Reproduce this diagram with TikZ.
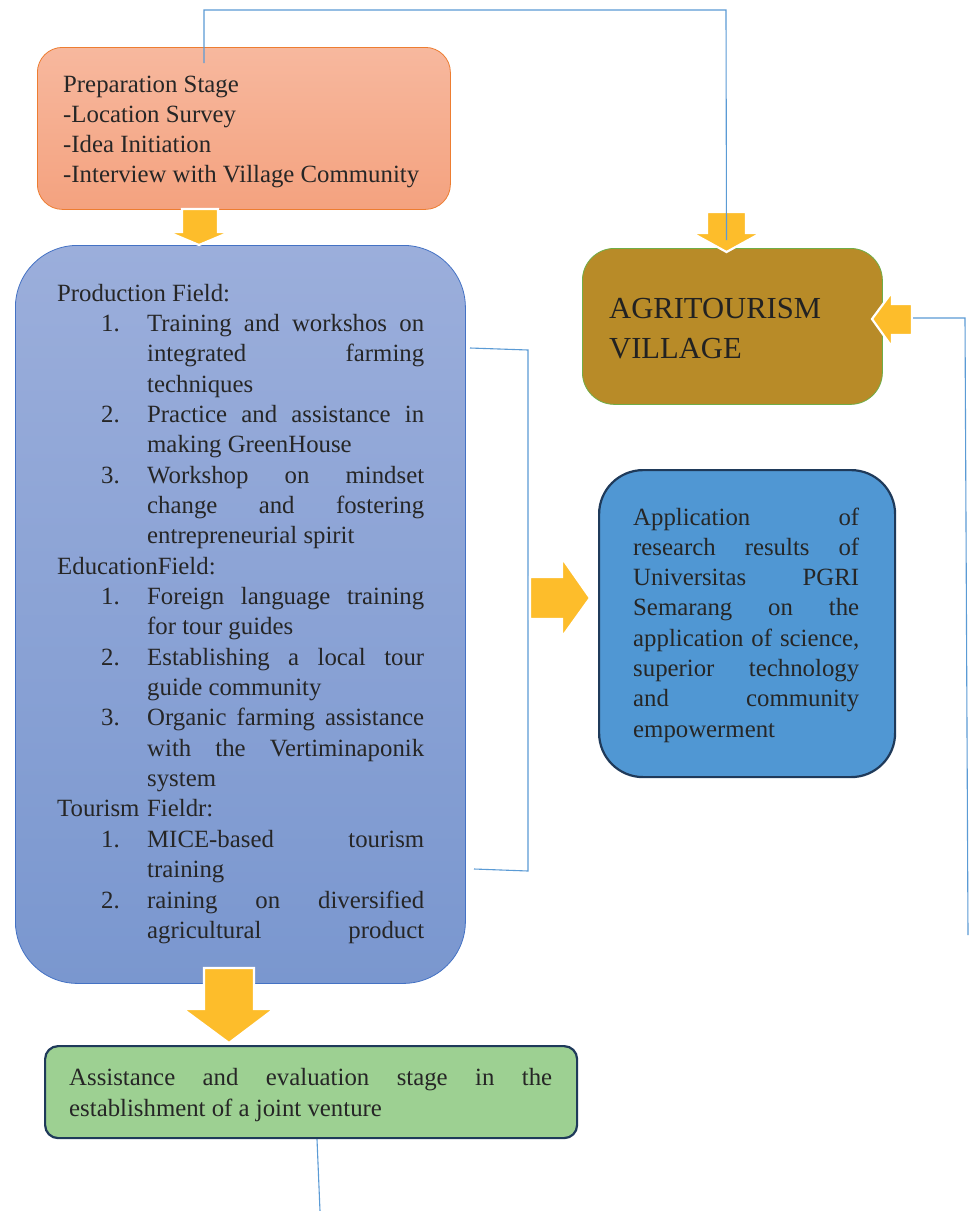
\documentclass[tikz,border=0pt]{standalone}
\usepackage{fontspec}
\setmainfont{Liberation Serif}
\definecolor{arrowyellow}{RGB}{253,189,43}
\definecolor{linkblue}{RGB}{91,155,213}
\definecolor{txtgray}{RGB}{38,38,38}
\definecolor{prepTop}{RGB}{247,184,158}
\definecolor{prepBot}{RGB}{244,162,127}
\definecolor{prepLine}{RGB}{237,125,49}
\definecolor{mainTop}{RGB}{155,174,219}
\definecolor{mainBot}{RGB}{122,151,207}
\definecolor{mainLine}{RGB}{68,114,196}
\definecolor{agriFill}{RGB}{184,139,40}
\definecolor{agriLine}{RGB}{112,173,71}
\definecolor{appFill}{RGB}{80,151,211}
\definecolor{darkLine}{RGB}{31,58,90}
\definecolor{greenFill}{RGB}{157,208,146}
\tikzset{
  boxshape/.style={draw, inner sep=0pt, anchor=north west},
  prepbox/.style={boxshape, draw=prepLine, line width=0.8pt, top color=prepTop, bottom color=prepBot, rounded corners=25pt},
  mainbox/.style={boxshape, draw=mainLine, line width=0.8pt, top color=mainTop, bottom color=mainBot, rounded corners=62pt},
  agribox/.style={boxshape, draw=agriLine, line width=0.8pt, fill=agriFill, rounded corners=32pt},
  appbox/.style={boxshape, draw=darkLine, line width=2.2pt, fill=appFill, rounded corners=44pt},
  greenbox/.style={boxshape, draw=darkLine, line width=2.2pt, fill=greenFill, rounded corners=13pt},
  txt/.style={inner sep=0pt, anchor=base west, text=txtgray, font=\fontsize{24.8}{28}\selectfont},
  bigtxt/.style={inner sep=0pt, anchor=base west, text=txtgray!90!black, font=\fontsize{30.6}{36}\selectfont},
  blockarrow/.style={fill=arrowyellow, draw=white, line width=2.2pt, line join=miter},
  conn/.style={draw=linkblue, line width=1.1pt},
}
\newcommand{\jline}[4]{\node[txt] (#1) at (#2) {\makebox[#3][s]{#4}};}
\newcommand{\pline}[3]{\node[txt] (#1) at (#2) {#3};}
\begin{document}
\begin{tikzpicture}[x=1pt,y=-1pt]
\useasboundingbox[fill=white] (0,0) rectangle (970,1211);

% ---------- boxes ----------
\node[prepbox, minimum width=413pt, minimum height=162pt] (prep) at (37,47) {};
\node[mainbox, minimum width=450pt, minimum height=738pt] (main) at (15,245) {};
\node[agribox, minimum width=300pt, minimum height=156pt] (agri) at (582,248) {};
\node[appbox, minimum width=296pt, minimum height=307pt] (app) at (598,469) {};
\node[greenbox, minimum width=532pt, minimum height=92pt] (green) at (44,1045) {};

% ---------- connector lines (behind arrows) ----------
\coordinate (brTop) at (470,348);
\coordinate (brTopR) at (528,350);
\coordinate (brBotR) at (528,871);
\coordinate (brBot) at (474,869);
\draw[conn] (brTop) -- (brTopR) -- (brBotR) -- (brBot);

% ---------- block arrows ----------
% preparation -> main
\draw[blockarrow] (182,209) -- (218,209) -- (218,232) -- (230,232) -- (199,245) -- (168,232) -- (182,232) -- cycle;
% top -> agritourism
\draw[blockarrow] (707,212) -- (746,212) -- (746,233) -- (761,233) -- (726.5,252) -- (692,233) -- (707,233) -- cycle;
% right -> agritourism
\draw[blockarrow] (912,304) -- (912,335) -- (892,335) -- (892,347) -- (872,319) -- (892,292) -- (892,304) -- cycle;
% bracket -> application
\draw[blockarrow] (530,577) -- (562,577) -- (562,558) -- (590,598) -- (562,637) -- (562,619) -- (530,619) -- cycle;
% main -> green
\draw[blockarrow] (204,968) -- (254,968) -- (254,1009) -- (274,1009) -- (229,1043) -- (183,1009) -- (204,1009) -- cycle;

% ---------- connector lines (over arrows) ----------
\coordinate (topL) at (204,10);
\coordinate (topR) at (726,10);
\coordinate (agriIn) at (726.5,240);
\coordinate (rightIn) at (913,318);
\coordinate (rightCorner) at (965,318);
\coordinate (rightEnd) at (968,935);
\coordinate (bottomEnd) at (320,1211);
\draw[conn] (204,63) -- (topL) -- (topR) -- (agriIn);
\draw[conn] (rightIn) -- (rightCorner) -- (rightEnd);
\draw[conn] (green.south -| 317,0) -- (bottomEnd);

% ---------- preparation text ----------
\pline{p1}{63,92}{Preparation Stage}
\pline{p2}{63,122}{-Location Survey}
\pline{p3}{63,152}{-Idea Initiation}
\pline{p4}{63,182}{-Interview with Village Community}

% ---------- main text ----------
\pline{m0}{57,301}{Production Field:}
\pline{n1}{101,331.35}{1.}
\jline{m1}{147,331.35}{277pt}{Training and workshos on}
\jline{m2}{147,361.7}{277pt}{integrated farming}
\pline{m3}{147,392.05}{techniques}
\pline{n2}{101,422.4}{2.}
\jline{m4}{147,422.4}{277pt}{Practice and assistance in}
\pline{m5}{147,452.75}{making GreenHouse}
\pline{n3}{101,483.1}{3.}
\jline{m6}{147,483.1}{277pt}{Workshop on mindset}
\jline{m7}{147,513.45}{277pt}{change and fostering}
\pline{m8}{147,543.8}{entrepreneurial spirit}
\pline{m9}{57,574.15}{EducationField:}
\pline{n4}{101,604.5}{1.}
\jline{m10}{147,604.5}{277pt}{Foreign language training}
\pline{m11}{147,634.85}{for tour guides}
\pline{n5}{101,665.2}{2.}
\jline{m12}{147,665.2}{277pt}{Establishing a local tour}
\pline{m13}{147,695.55}{guide community}
\pline{n6}{101,725.9}{3.}
\jline{m14}{147,725.9}{277pt}{Organic farming assistance}
\jline{m15}{147,756.25}{277pt}{with the Vertiminaponik}
\pline{m16}{147,786.6}{system}
\pline{m17a}{57,816.95}{Tourism}
\pline{m17b}{147,816.95}{Fieldr:}
\pline{n7}{101,847.3}{1.}
\jline{m18}{147,847.3}{277pt}{MICE-based tourism}
\pline{m19}{147,877.65}{training}
\pline{n8}{101,908}{2.}
\jline{m20}{147,908}{277pt}{raining on diversified}
\jline{m21}{147,938.35}{277pt}{agricultural product}

% ---------- agritourism text ----------
\node[bigtxt] (a1) at (609,318) {AGRITOURISM};
\node[bigtxt] (a2) at (609,358) {VILLAGE};

% ---------- application text ----------
\jline{b1}{633,525}{226pt}{Application of}
\jline{b2}{633,555.3}{226pt}{research results of}
\jline{b3}{633,585.6}{226pt}{Universitas PGRI}
\jline{b4}{633,615.9}{226pt}{Semarang on the}
\jline{b5}{633,646.2}{226pt}{application of science,}
\jline{b6}{633,676.5}{226pt}{superior technology}
\jline{b7}{633,706.8}{226pt}{and community}
\pline{b8}{633,737.1}{empowerment}

% ---------- green text ----------
\jline{g1}{69,1085}{483pt}{Assistance and evaluation stage in the}
\pline{g2}{69,1116}{establishment of a joint venture}

\end{tikzpicture}
\end{document}
